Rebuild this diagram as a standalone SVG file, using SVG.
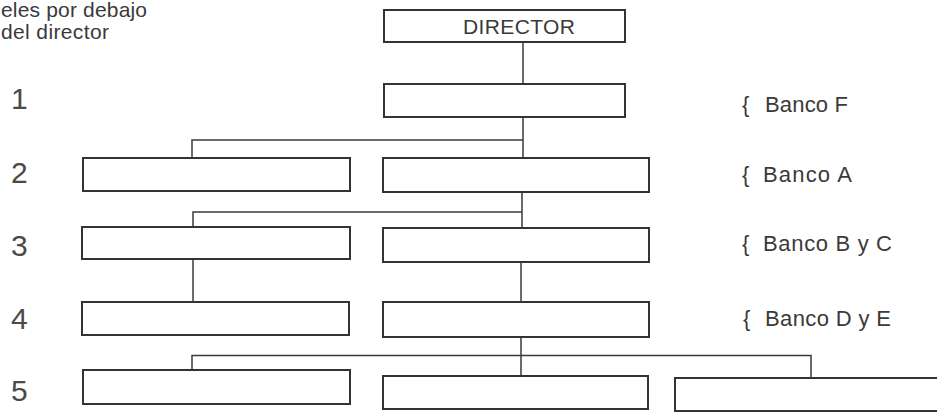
<svg xmlns="http://www.w3.org/2000/svg" width="937" height="412" viewBox="0 0 937 412">
  <style>
    .box { fill: #ffffff; stroke: #333333; stroke-width: 2; }
    .line { fill: none; stroke: #3a3a3a; stroke-width: 1.5; }
    .t { font-family: "Liberation Sans", Arial, sans-serif; font-size: 21px; fill: #3a3a3a; }
    .lab { font-family: "Liberation Sans", Arial, sans-serif; font-size: 22px; fill: #3a3a3a; }
    .num { font-family: "Liberation Sans", Arial, sans-serif; font-size: 30px; fill: #4a4a4a; }
  </style>
  <rect x="0" y="0" width="937" height="412" fill="#ffffff"/>

  <g id="header">
    <text class="t" x="1" y="17" textLength="146" lengthAdjust="spacing">eles por debajo</text>
    <text class="t" x="1" y="39" textLength="108" lengthAdjust="spacing">del director</text>
  </g>

  <g id="level-numbers">
    <text class="num" x="11" y="109">1</text>
    <text class="num" x="11" y="183">2</text>
    <text class="num" x="11" y="256">3</text>
    <text class="num" x="11" y="329">4</text>
    <text class="num" x="11" y="401">5</text>
  </g>

  <g id="labels">
    <text class="lab" y="112"><tspan x="742">{</tspan><tspan x="765" textLength="83" lengthAdjust="spacing">Banco F</tspan></text>
    <text class="lab" y="182"><tspan x="742">{</tspan><tspan x="763" textLength="89" lengthAdjust="spacing">Banco A</tspan></text>
    <text class="lab" y="251"><tspan x="742">{</tspan><tspan x="763" textLength="129" lengthAdjust="spacing">Banco B y C</tspan></text>
    <text class="lab" y="326"><tspan x="743">{</tspan><tspan x="765" textLength="126" lengthAdjust="spacing">Banco D y E</tspan></text>
  </g>

  <g id="connectors">
    <path class="line" d="M523 42 V84"/>
    <path class="line" d="M523 117 V158 M523 140 H192 V158"/>
    <path class="line" d="M522 192 V228 M522 212 H193 V227"/>
    <path class="line" d="M193 259 V302"/>
    <path class="line" d="M521 262 V302"/>
    <path class="line" d="M521 337 V376 M811 378 V355.5 H192 V370"/>
  </g>

  <g id="director">
    <rect class="box" x="384" y="10" width="241" height="32"/>
    <text class="t" x="463" y="34" textLength="112" lengthAdjust="spacing">DIRECTOR</text>
  </g>
  <g id="n1"><rect class="box" x="384" y="84" width="241" height="33"/></g>
  <g id="n2-left"><rect class="box" x="83" y="158" width="267" height="33"/></g>
  <g id="n2-center"><rect class="box" x="383" y="158" width="266" height="34"/></g>
  <g id="n3-left"><rect class="box" x="82" y="227" width="268" height="32"/></g>
  <g id="n3-center"><rect class="box" x="383" y="228" width="266" height="34"/></g>
  <g id="n4-left"><rect class="box" x="82" y="302" width="267" height="33"/></g>
  <g id="n4-center"><rect class="box" x="383" y="302" width="266" height="35"/></g>
  <g id="n5-left"><rect class="box" x="83" y="370" width="267" height="34"/></g>
  <g id="n5-center"><rect class="box" x="383" y="376" width="265" height="33"/></g>
  <g id="n5-right"><rect class="box" x="675" y="378" width="275" height="33"/></g>
</svg>
